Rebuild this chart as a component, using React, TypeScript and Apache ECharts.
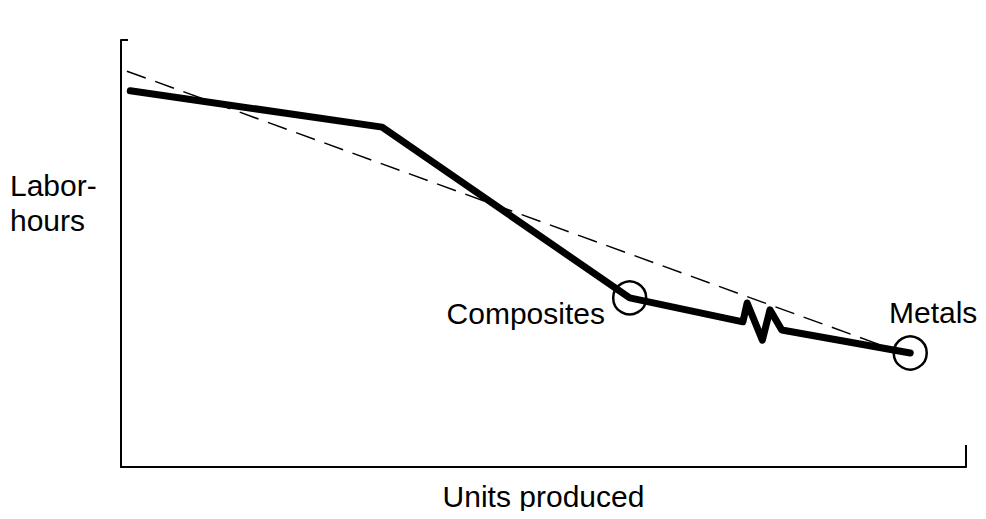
import React, { useEffect, useRef } from "react";
import * as echarts from "echarts";

// Learning curve (units produced 0-100, labor-hours 0-100, arbitrary scale)
const curveX = [1.1, 30.9, 60.2, 73.6, 74.1, 75.9, 76.8, 78.2, 93.4];
const curveY = [88.1, 79.6, 39.6, 34.0, 38.4, 29.7, 36.8, 32.1, 26.7];
const trendX = [0.7, 92.2];
const trendY = [92.7, 26.9];
const markerNames = ["Composites", "Metals"];
const markerX = [60.2, 93.4];
const markerY = [39.6, 26.7];

const FONT = "'Liberation Sans', Arial, Helvetica, sans-serif";

export default function App() {
  const ref = useRef<HTMLDivElement>(null);
  useEffect(() => {
    if (!ref.current) return;
    const chart = echarts.init(ref.current, undefined, { renderer: "svg" });
    const axisCommon = {
      type: "value" as const,
      min: 0,
      max: 100,
      interval: 100,
      axisLine: { show: true, lineStyle: { color: "#000", width: 2 } },
      axisLabel: { show: false },
      splitLine: { show: false },
    };
    chart.setOption({
      animation: false,
      backgroundColor: "#fff",
      grid: { left: 121, right: 20, top: 40, bottom: 52 },
      xAxis: {
        ...axisCommon,
        axisTick: { show: true, inside: true, length: 22, lineStyle: { color: "#000", width: 2 } },
        name: "Units produced",
        nameLocation: "middle",
        nameGap: 14,
        nameTextStyle: { fontFamily: FONT, fontSize: 30, color: "#000", verticalAlign: "top" },
      },
      yAxis: {
        ...axisCommon,
        axisTick: { show: true, inside: true, length: 7, lineStyle: { color: "#000", width: 2 } },
      },
      series: [
        {
          type: "line",
          data: trendX.map((x, i) => [x, trendY[i]]),
          symbol: "none",
          lineStyle: { color: "#000", width: 1.5, type: [20, 10] },
        },
        {
          type: "line",
          data: curveX.map((x, i) => [x, curveY[i]]),
          symbol: "none",
          lineStyle: { color: "#000", width: 7, cap: "round", join: "round" },
        },
        {
          type: "scatter",
          data: markerX.map((x, i) => ({ name: markerNames[i], value: [x, markerY[i]] })),
          symbol: "circle",
          symbolSize: 33,
          itemStyle: { color: "rgba(0,0,0,0)", borderColor: "#000", borderWidth: 2.5, opacity: 1 },
          z: 5,
        },
      ],
      graphic: [
        {
          type: "text",
          top: 168,
          left: 10,
          style: {
            text: "Labor-\nhours",
            font: `30px ${FONT}`,
            lineHeight: 35,
            fill: "#000",
          },
        },
        {
          type: "text",
          x: 605,
          y: 313,
          style: { text: "Composites", font: `30px ${FONT}`, fill: "#000", align: "right", verticalAlign: "middle" },
        },
        {
          type: "text",
          x: 889,
          y: 312,
          style: { text: "Metals", font: `30px ${FONT}`, fill: "#000", align: "left", verticalAlign: "middle" },
        },
      ],
    });
    return () => chart.dispose();
  }, []);
  return <div ref={ref} style={{ width: 986, height: 519, margin: -8 }} />;
}
